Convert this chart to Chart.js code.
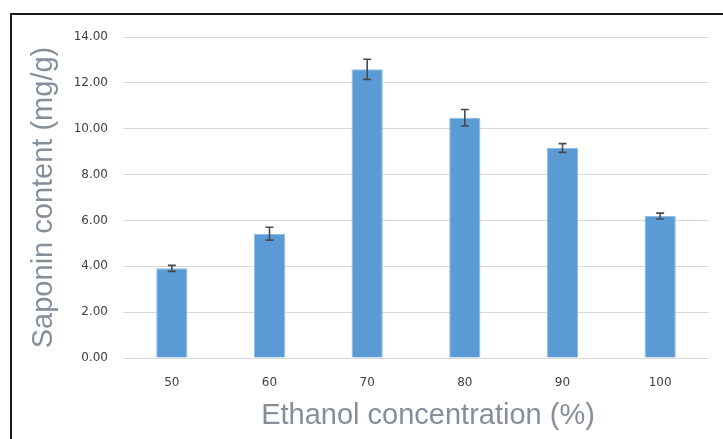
<!DOCTYPE html>
<html>
<head>
<meta charset="utf-8">
<script src="https://cdn.jsdelivr.net/npm/chart.js@4"></script>
<style>
  html, body { margin: 0; padding: 0; background: #fff; }
  #wrap { position: relative; width: 723px; height: 439px; overflow: hidden; }
  #frame { position: absolute; left: 10px; top: 13px; width: 800px; height: 500px; border: 2px solid #1a1a1a; }
  canvas { position: absolute; left: 0; top: 0; }
</style>
</head>
<body>
<div id="wrap">
  <div id="frame"></div>
  <canvas id="myChart" width="723" height="439"></canvas>
</div>
<script>
const concentrations = ['50', '60', '70', '80', '90', '100']
const saponin = [3.91, 5.42, 12.59, 10.48, 9.16, 6.19]
const saponinErr = [0.13, 0.28, 0.44, 0.36, 0.19, 0.13]
const yTicks = [0, 2, 4, 6, 8, 10, 12, 14]
const xTitle = 'Ethanol concentration (%)'

// draws the error bars from the y scale
const errorBars = {
  id: 'errorBars',
  afterDatasetsDraw(chart) {
    const ctx = chart.ctx
    const yScale = chart.scales.y
    const meta = chart.getDatasetMeta(0)
    ctx.save()
    ctx.strokeStyle = '#4a4a4a'
    ctx.lineWidth = 1.6
    meta.data.forEach((bar, i) => {
      const v = saponin[i]
      const e = saponinErr[i]
      const yTop = yScale.getPixelForValue(v + e)
      const yBot = yScale.getPixelForValue(v - e)
      const x = bar.x
      const cap = 4
      ctx.beginPath()
      ctx.moveTo(x, yTop)
      ctx.lineTo(x, yBot)
      ctx.moveTo(x - cap, yTop)
      ctx.lineTo(x + cap, yTop)
      ctx.moveTo(x - cap, yBot)
      ctx.lineTo(x + cap, yBot)
      ctx.stroke()
    })
    ctx.restore()
  }
}

// x axis title, sits a bit right of the plot centre like in excel
const xAxisTitle = {
  id: 'xAxisTitle',
  afterDraw(chart) {
    const ctx = chart.ctx
    const area = chart.chartArea
    ctx.save()
    ctx.font = '29px "Liberation Sans"'
    ctx.fillStyle = '#868e9a'
    ctx.textAlign = 'center'
    ctx.textBaseline = 'middle'
    ctx.fillText(xTitle, (area.left + area.right) / 2 + 12, area.bottom + 58)
    ctx.restore()
  }
}

const data = {
  labels: concentrations,
  datasets: [{
    label: 'Saponin content',
    data: saponin,
    backgroundColor: '#5b9bd5',
    borderColor: '#8fbbe6',
    borderWidth: 1,
    barPercentage: 0.32,
    categoryPercentage: 1
  }]
}

const config = {
  type: 'bar',
  data: data,
  options: {
    responsive: false,
    animation: false,
    layout: { padding: { top: 37, right: 14, bottom: 0, left: 0 } },
    plugins: {
      legend: { display: false },
      tooltip: { enabled: false }
    },
    scales: {
      x: {
        grid: { display: false, drawTicks: false },
        border: { display: false },
        ticks: {
          color: '#404040',
          font: { family: 'DejaVu Sans', size: 12 },
          padding: 18
        },
        afterFit(scale) { scale.height = 81 }
      },
      y: {
        min: 0,
        max: 14,
        afterBuildTicks(scale) { scale.ticks = yTicks.map(v => ({ value: v })) },
        grid: { color: '#d9d9d9', lineWidth: 1, drawTicks: false },
        border: { display: false },
        ticks: {
          color: '#404040',
          font: { family: 'DejaVu Sans', size: 12 },
          padding: 15,
          callback: v => v.toFixed(2)
        },
        title: {
          display: true,
          text: 'Saponin content (mg/g)',
          color: '#868e9a',
          font: { family: 'Liberation Sans', size: 29 },
          padding: { top: 27, bottom: 0 }
        },
        afterFit(scale) { scale.width = 123 }
      }
    }
  },
  plugins: [errorBars, xAxisTitle]
}

const ctx = document.getElementById('myChart')
const myChart = new Chart(ctx, config)
</script>
</body>
</html>
